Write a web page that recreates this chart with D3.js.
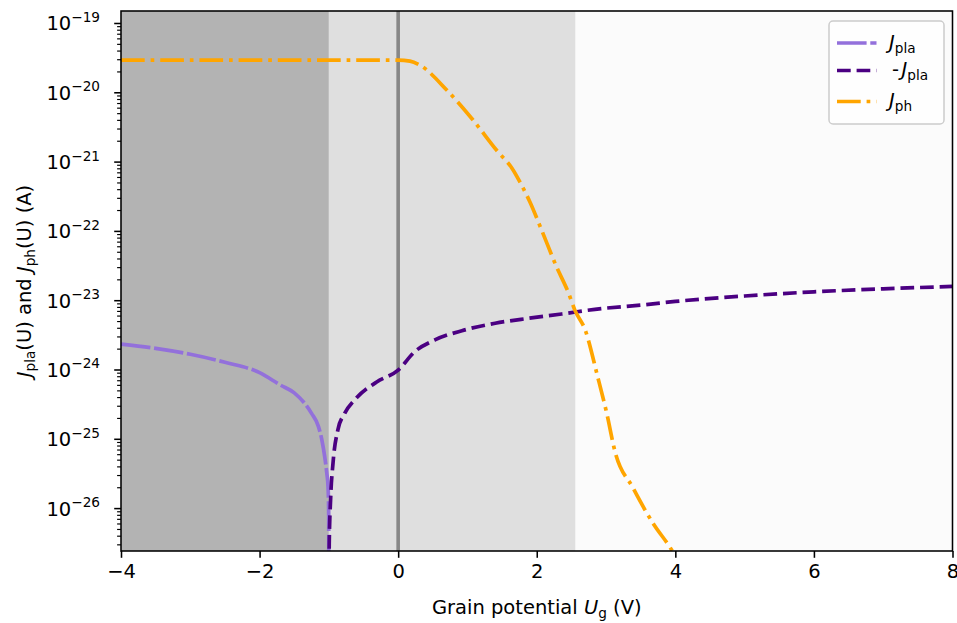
<!DOCTYPE html>
<html>
<head>
<meta charset="utf-8">
<script src="https://cdn.jsdelivr.net/npm/d3@7"></script>
<style>
  html, body { margin: 0; padding: 0; background: #ffffff; }
  svg { display: block; font-family: "DejaVu Sans", sans-serif; }
</style>
</head>
<body>
<svg id="chart" width="957" height="623"></svg>
<script>
// ---------------- data ----------------
const jplaU = [-4.0, -3.5, -3.0, -2.5, -2.0, -1.7, -1.5, -1.35, -1.25, -1.15, -1.1, -1.06, -1.03, -1.012, -1.002, -1.0];
const jplaV = [2.33e-24, 2.02e-24, 1.66e-24, 1.27e-24, 9.0e-25, 5.97e-25, 4.6e-25, 3.25e-25, 2.33e-25, 1.50e-25, 9.5e-26, 5.5e-26, 3.2e-26, 2.04e-26, 7.5e-27, 1e-28];

const negJplaU = [-1.0, -0.995, -0.975, -0.94, -0.87, -0.77, -0.60, -0.31, 0.0, 0.24, 0.53, 0.92, 1.40, 1.88, 2.36, 2.84, 3.52, 4.0, 5.0, 6.0, 7.0, 8.0];
const negJplaV = [1e-28, 3e-27, 1.35e-26, 4.5e-26, 1.35e-25, 2.34e-25, 3.9e-25, 6.6e-25, 9.8e-25, 1.81e-24, 2.67e-24, 3.63e-24, 4.65e-24, 5.48e-24, 6.32e-24, 7.39e-24, 8.53e-24, 9.6e-24, 1.15e-23, 1.32e-23, 1.46e-23, 1.58e-23];

const jphU = [-4, 0, 0.17, 0.31, 0.70, 1.08, 1.44, 1.64, 1.78, 1.90, 2.07, 2.28, 2.46, 2.55, 2.70, 2.88, 3.01, 3.13, 3.39, 3.68, 3.92, 4.10];
const jphV = [2.92e-20, 2.92e-20, 2.82e-20, 2.48e-20, 1.08e-20, 3.98e-21, 1.38e-21, 8.1e-22, 4.6e-22, 2.64e-22, 1.03e-22, 3.12e-23, 1.26e-23, 7.2e-24, 3.7e-24, 7.8e-25, 2.34e-25, 6.5e-26, 1.95e-26, 6.0e-27, 2.75e-27, 1.4e-27];

const regionEdges = [-4, -1, 2.56, 8];      // shaded potential ranges
const zeroLineU = 0;
const xTicks = [-4, -2, 0, 2, 4, 6, 8];
const yTickExps = [-19, -20, -21, -22, -23, -24, -25, -26];
const xDomain = [-4, 8];
const yDomain = [Math.pow(10, -26.619), Math.pow(10, -18.827)];

// ---------------- layout & style ----------------
const M = { left: 121, right: 952.5, top: 11, bottom: 551 };
const FS = 19.5;
const LW = 3.7;
const colors = { jpla: "#9370DB", neg: "#4B0082", jph: "#FFA500" };
const regionColors = ["#b3b3b3", "#dfdfdf", "#fbfbfb"];

const svg = d3.select("#chart");
const x = d3.scaleLinear().domain(xDomain).range([M.left, M.right]);
const y = d3.scaleLog().domain(yDomain).range([M.bottom, M.top]);

svg.append("defs").append("clipPath").attr("id", "clip")
  .append("rect").attr("x", M.left).attr("y", M.top)
  .attr("width", M.right - M.left).attr("height", M.bottom - M.top);

const plot = svg.append("g").attr("clip-path", "url(#clip)");

// shaded regions
for (let i = 0; i < regionEdges.length - 1; i++) {
  plot.append("rect")
    .attr("x", x(regionEdges[i])).attr("y", M.top)
    .attr("width", x(regionEdges[i + 1]) - x(regionEdges[i]))
    .attr("height", M.bottom - M.top)
    .attr("fill", regionColors[i]);
}

// vertical line at U=0
plot.append("line")
  .attr("x1", x(zeroLineU)).attr("x2", x(zeroLineU))
  .attr("y1", M.top).attr("y2", M.bottom)
  .attr("stroke", "#878787").attr("stroke-width", 3.6);

const line = d3.line().x(d => x(d[0])).y(d => y(d[1])).curve(d3.curveMonotoneX);
const series = [
  { u: jplaU, v: jplaV, color: colors.jpla, dash: [29.6, 3.7].join(",") },
  { u: negJplaU, v: negJplaV, color: colors.neg, dash: [13.7, 5.9].join(",") },
  { u: jphU, v: jphV, color: colors.jph, dash: [23.7, 5.9, 3.7, 5.9].join(",") }
];
series.forEach(s => {
  plot.append("path")
    .datum(s.u.map((u, i) => [u, s.v[i]]))
    .attr("d", line)
    .attr("fill", "none")
    .attr("stroke", s.color)
    .attr("stroke-width", LW)
    .attr("stroke-dasharray", s.dash);
});

// ---------------- axes ----------------
const xAxis = d3.axisBottom(x).tickValues(xTicks).tickSize(6.8).tickPadding(6.8)
  .tickFormat(d => d < 0 ? "\u2212" + Math.abs(d) : String(d));
const gx = svg.append("g").attr("transform", `translate(0,${M.bottom})`).call(xAxis);
gx.select(".domain").remove();
gx.selectAll(".tick line").attr("stroke", "#000").attr("stroke-width", 1.55);
gx.selectAll(".tick text").attr("font-size", FS).attr("fill", "#000")
  .attr("font-family", "DejaVu Sans").attr("dy", "0.71em");

// y minor ticks
const minorVals = [];
for (let e = -27; e <= -19; e++) {
  for (let k = 2; k <= 9; k++) {
    const v = k * Math.pow(10, e);
    if (v >= yDomain[0] && v <= yDomain[1]) minorVals.push(v);
  }
}
const majorVals = yTickExps.map(e => Math.pow(10, e));
const gyMinor = svg.append("g").attr("transform", `translate(${M.left},0)`)
  .call(d3.axisLeft(y).tickValues(minorVals).tickSize(3.9).tickFormat(""));
gyMinor.select(".domain").remove();
gyMinor.selectAll(".tick line").attr("stroke", "#000").attr("stroke-width", 1.17);

const gy = svg.append("g").attr("transform", `translate(${M.left},0)`)
  .call(d3.axisLeft(y).tickValues(majorVals).tickSize(6.8).tickFormat(""));
gy.select(".domain").remove();
gy.selectAll(".tick line").attr("stroke", "#000").attr("stroke-width", 1.55);

// y tick labels 10^n
yTickExps.forEach(e => {
  const t = svg.append("text")
    .attr("x", 100).attr("y", y(Math.pow(10, e)) + 7.5)
    .attr("text-anchor", "end").attr("font-size", FS).attr("fill", "#000");
  t.append("tspan").text("10");
  t.append("tspan").attr("font-size", FS * 0.7).attr("dy", -8.5).text("\u2212" + Math.abs(e));
});

// frame
svg.append("rect")
  .attr("x", M.left).attr("y", M.top)
  .attr("width", M.right - M.left).attr("height", M.bottom - M.top)
  .attr("fill", "none").attr("stroke", "#000").attr("stroke-width", 1.55);

// ---------------- labels ----------------
function mathLabel(sel, parts) {
  parts.forEach(p => {
    const ts = sel.append("tspan").text(p.t);
    if (p.it) ts.attr("font-style", "italic");
    if (p.sub) ts.attr("font-size", FS * 0.7).attr("dy", 4.2);
    if (p.up) ts.attr("dy", -4.2);
    if (p.dx) ts.attr("dx", p.dx);
  });
}

const xl = svg.append("text").attr("x", (M.left + M.right) / 2).attr("y", 614)
  .attr("text-anchor", "middle").attr("font-size", FS).attr("fill", "#000");
mathLabel(xl, [{ t: "Grain potential " }, { t: "U", it: true }, { t: "g", sub: true }, { t: " (V)", up: true }]);

const yl = svg.append("text")
  .attr("transform", `translate(31,${(M.top + M.bottom) / 2}) rotate(-90)`)
  .attr("text-anchor", "middle").attr("font-size", FS).attr("fill", "#000");
mathLabel(yl, [{ t: "J", it: true }, { t: "pla", sub: true }, { t: "(U) and ", up: true },
  { t: "J", it: true }, { t: "ph", sub: true }, { t: "(U) (A)", up: true }]);

// ---------------- legend ----------------
const lg = svg.append("g");
lg.append("rect").attr("x", 829).attr("y", 21).attr("width", 115).attr("height", 103)
  .attr("rx", 4).attr("fill", "#ffffff").attr("fill-opacity", 0.8)
  .attr("stroke", "#cccccc").attr("stroke-width", 1.5);
const legendItems = [
  { s: series[0], yy: 43, parts: [{ t: "J", it: true }, { t: "pla", sub: true }], tx: 889 },
  { s: series[1], yy: 70.5, parts: [{ t: "-" }, { t: "J", it: true, dx: 2.5 }, { t: "pla", sub: true }], tx: 892 },
  { s: series[2], yy: 101.5, parts: [{ t: "J", it: true }, { t: "ph", sub: true }], tx: 889 }
];
legendItems.forEach(it => {
  lg.append("line").attr("x1", 837).attr("x2", 876.5).attr("y1", it.yy).attr("y2", it.yy)
    .attr("stroke", it.s.color).attr("stroke-width", LW).attr("stroke-dasharray", it.s.dash);
  const t = lg.append("text").attr("x", it.tx).attr("y", it.yy + 5.5)
    .attr("font-size", FS).attr("fill", "#000");
  mathLabel(t, it.parts);
});
</script>
</body>
</html>
